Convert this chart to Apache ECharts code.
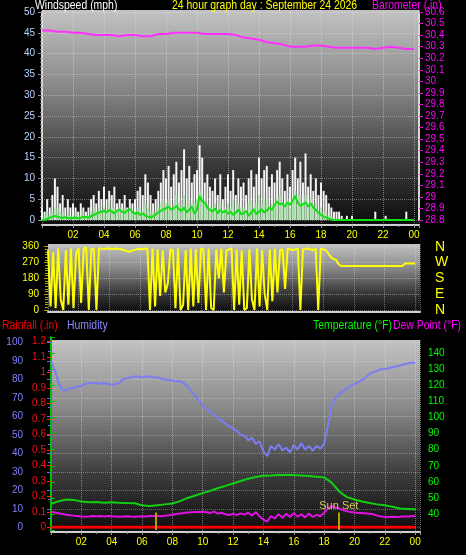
<!DOCTYPE html>
<html><head><meta charset="utf-8">
<script src="https://cdn.jsdelivr.net/npm/echarts@6/dist/echarts.min.js"></script>
<style>html,body{margin:0;padding:0;background:#000;}#c{width:466px;height:555px;}</style>
</head><body><div id="c"></div>
<script>
// ---------- DATA ----------
// hour labels for ticks 0,2,...,24
const hourLabels = ['', '02', '04', '06', '08', '10', '12', '14', '16', '18', '20', '22', '00'];
const compassLabels = ['N', 'E', 'S', 'W', 'N']; // 0,90,180,270,360

// 10-minute wind gust (mph), 0:00 .. 24:00
const windGust = [
 3,2,5,3,6,10, 8,4,6,3,5,3, 4,3,2,4,3,2, 3,5,6,4,7,5, 8,5,7,6,8,4, 5,4,6,3,5,4,
 5,7,8,6,11,9, 6,4,5,7,9,12, 10,13,8,11,14,9, 12,17,10,13,9,11, 12,18,15,9,11,8, 7,10,6,11,5,8,
 11,7,12,6,10,8, 9,6,10,12,8,11, 15,10,12,13,8,11, 9,12,14,10,7,11, 8,12,15,10,14,9, 16,8,11,7,10,6,
 9,7,6,4,3,2, 2,2,1,0,1,0, 1,0,0,0,0,0, 0,0,0,2,0,0, 0,1,0,0,0,0, 0,0,0,2,0,0, 0];
// 10-minute wind speed (mph)
const windSpeed = [
 0,1,2,1,2,3, 3,2,2,1,2,1, 1,2,1,1,2,1, 1,2,3,2,3,2, 3,2,4,3,3,2, 3,2,3,2,3,2,
 2,3,3,2,4,3, 2,2,2,3,4,5, 4,5,3,4,6,4, 4,6,3,5,4,4, 5,7,6,4,4,3, 3,4,2,4,2,3,
 4,3,5,2,4,3, 3,2,4,5,3,4, 6,4,5,5,3,4, 4,5,6,4,3,5, 3,5,7,4,6,4, 6,3,5,3,4,2,
 3,2,2,1,1,0, 0,0,0,0,0,0, 0,0,0,0,0,0, 0,0,0,0,0,0, 0,0,0,0,0,0, 0,0,0,0,0,0, 0];
// 10-minute average wind (mph)
const windAvg = [
 0,0,0.3,0.5,0.8,1, 0.8,0.6,0.5,0.7,0.5,0.4, 0.5,0.6,0.4,0.5,0.8,0.7, 0.6,0.9,1.2,1.5,1.8,2,
 2.2,1.8,2.4,2.0,1.6,2.2, 2.5,2.0,1.7,2.3,2.6,1.9, 1.5,1.8,1.2,1.6,1.0,0.8, 0.6,0.9,1.3,1.8,2.2,2.6,
 2.8,3.2,2.5,2.8,3.4,2.6, 2.2,3.0,1.8,2.5,3.2,1.5, 2.5,5.8,4.5,4.2,3.0,2.4, 2.0,2.8,1.6,2.4,1.8,2.2,
 1.5,2.0,1.2,1.8,2.5,1.4, 1.6,2.2,1.0,1.8,2.6,1.4, 2.0,2.6,1.8,2.2,3.0,2.4, 3.6,4.4,3.8,4.0,3.2,4.2,
 3.6,4.6,5.8,4.2,3.4,3.8, 4.2,3.2,4.0,3.0,2.4,1.8, 1.2,0.8,0.6,0.3,0.1,0, 0,0,0,0,0,0,
 0,0,0,0,0,0, 0,0,0,0,0,0, 0,0,0,0,0,0, 0,0,0,0,0,0, 0];
// 30-minute barometer (in)
const barometer = [30.44,30.44,30.43,30.43,30.42,30.42,30.41,30.40,30.40,30.40,30.39,30.40,30.40,30.39,30.39,30.41,
 30.41,30.42,30.42,30.42,30.42,30.41,30.41,30.41,30.41,30.40,30.38,30.37,30.36,30.34,30.33,30.32,
 30.30,30.30,30.30,30.31,30.31,30.30,30.29,30.29,30.29,30.29,30.29,30.28,30.29,30.30,30.29,30.28,30.28];
// 10-minute wind direction (deg)
const windDir = [
 340,20,330,10,350,60, 0,340,30,350,10,320, 350,40,350,355,0,350, 345,0,350,350,345,350,
 350,345,348,350,345,345, 340,335,330,338,342,345, 348,345,350,348,0,350, 20,345,80,340,100,150,
 345,340,10,350,0,30, 340,0,350,20,345,40, 350,345,0,350,10,0, 345,180,350,100,340,345,
 350,0,345,30,340,0, 10,345,60,0,350,20, 340,90,0,345,50,350, 100,340,345,120,350,345,
 340,345,350,0,345,348, 350,345,340,350,0,350, 345,340,320,300,290,285, 260,250,250,250,250,250,
 250,250,250,250,250,250, 250,250,250,250,250,250, 250,250,250,250,250,250, 250,250,265,265,265,265, 265];
// 15-minute humidity (%)
const humidity = [89.5,85,78,74.5,74,75,75.5,76,76.5,77.5,78,78,78,77.5,78,77.5,77,77.5,78,80,80.5,81,81.5,81.5,
 81,81.5,81.5,81,81,80.5,80,79.5,79.5,79,79,78,76,73.5,71,68.5,66,64,62.5,61,59,57.5,56,54.5,
 53.5,52,50,49.5,47,48.5,45,46.5,41,38.5,44,42,45,41.5,43,40.5,44.5,42,45.5,42,44,41.5,44,42.5,
 45,55,66,70,72,73.5,75,76.5,77.5,78.5,79.5,81,83,84,84.5,85.5,85.5,86,86.5,87,87.5,88,88.5,89,89];
// 30-minute temperature (F)
const temperature = [46.2,48,49,48.8,47.8,47.3,47.5,47,47.3,47,46.8,46.7,45.5,45,45.5,46,46.5,48,50,51.5,53,54.5,
 56,57.5,59,60.5,62,63,63.8,64,64.3,64.3,64.2,64,63.6,63.2,62.8,59.5,54,50.5,49,47.8,46.8,46,45.5,44.5,43.5,43.2,42.9];
// 15-minute dew point (F)
const dewPoint = [41.4,41,40.5,40,39.5,39.3,39,38.8,38.5,38.3,38.5,38.8,38.6,38.8,38.5,38.8,38.6,38.5,38.3,38.5,
 38.6,38.4,38.3,38.5,38.6,38.4,38.7,38.8,38.7,38.6,38.9,39.2,39.6,40,40.4,40.6,40.9,41.1,41.2,41.3,
 41.4,41.1,40.7,41.5,40.3,40.8,39.8,39.4,40.1,39.3,40.4,39.6,40.8,39,41.2,38.5,36.5,35.3,38.8,37.2,
 39.9,37.6,40.2,38.1,40.5,38.4,39.8,37.9,40.3,38.2,39.5,38.6,40.8,43.5,45,44,43.5,42.5,41.8,41.2,
 41,40.7,40.6,40.4,40.2,39.8,39,38.5,38.3,38.2,38.3,38.2,38.3,38.5,38.4,38.6,38.8];
// hourly rainfall (in)
const rainfall = [0,0,0,0,0,0,0,0,0,0,0,0,0,0,0,0,0,0,0,0,0,0,0,0,0];
// sunrise / sunset (hour)
const sunTimes = [6.92, 18.97];
const sunLabels = ['', 'Sun Set'];
// chart captions
const captions = ['Windspeed (mph)', '24 hour graph day : September 24 2026', 'Barometer (.in)',
  'Rainfall (.in)', 'Humidity', 'Temperature (\u00b0F)', 'Dew Point (\u00b0F)'];

// ---------- BUILD ----------
const pair = (arr, step) => arr.map((v, i) => [i * step, v]);
const FONT = '"Liberation Sans", Arial, sans-serif';
const XMAX = 24.32;
function grad() {
  return new echarts.graphic.LinearGradient(0, 0, 0, 1, [
    {offset: 0, color: '#c2c2c2'}, {offset: 0.35, color: '#8a8a8a'},
    {offset: 0.7, color: '#3c3c3c'}, {offset: 1, color: '#0c0c0c'}]);
}
const hourFmt = v => hourLabels[Math.round(v / 2)] || '';
const dotted = c => ({show: true, lineStyle: {type: 'dotted', color: c, width: 1}});
function hiddenX(g) { return {gridIndex: g, type: 'value', min: 0, max: XMAX, show: false}; }
function labelX(g) {
  return {gridIndex: g, type: 'value', min: 0, max: XMAX, interval: 2,
    axisLine: {show: true, lineStyle: {color: '#d0d0d0', width: 2}},
    axisTick: {show: true, length: 3, lineStyle: {color: '#9a9a9a'}},
    minorTick: {show: true, splitNumber: 2, length: 2, lineStyle: {color: '#9a9a9a'}},
    axisLabel: {color: '#ffff00', fontSize: 10, fontFamily: FONT, margin: 5, formatter: hourFmt},
    splitLine: dotted('rgba(235,235,235,0.45)')};
}
function plainX(g) {
  return {gridIndex: g, type: 'value', min: 0, max: XMAX, interval: 2,
    axisLine: {show: true, lineStyle: {color: '#d0d0d0', width: 2}},
    axisTick: {show: false}, axisLabel: {show: false},
    splitLine: dotted('rgba(235,235,235,0.4)')};
}
const hiddenY = g => ({gridIndex: g, type: 'value', min: 0, max: 1, show: false});
function caption(i, x, y, color) {
  return {type: 'text', x: x, y: y, scaleX: 0.87, z: 100,
    style: {text: captions[i], fill: color, fontSize: 12, fontFamily: FONT, verticalAlign: 'middle'}};
}

const option = {
  backgroundColor: '#000',
  animation: false,
  graphic: [
    caption(0, 35, 6, '#ffffff'),
    caption(1, 172, 6, '#ffff00'),
    caption(2, 372, 6, '#ff00ff'),
    caption(3, 2, 326, '#ff0000'),
    caption(4, 67, 326, '#8c8cff'),
    caption(5, 313, 326, '#00ff00'),
    caption(6, 393, 326, '#ff00ff')
  ],
  grid: [
    {left: 42, top: 10, width: 377, height: 215, show: true, backgroundColor: grad(), borderWidth: 0},
    {left: 42, top: 12, width: 377, height: 208},
    {left: 48, top: 244, width: 372, height: 68, show: true, backgroundColor: grad(), borderWidth: 0},
    {left: 48, top: 246.7, width: 372, height: 63.3},
    {left: 51, top: 340, width: 369, height: 192, show: true, backgroundColor: grad(), borderWidth: 0},
    {left: 51, top: 342.3, width: 369, height: 185},
    {left: 51, top: 341.3, width: 369, height: 186},
    {left: 51, top: 337.2, width: 369, height: 192.9}
  ],
  xAxis: [labelX(0), hiddenX(1), plainX(2), hiddenX(3), labelX(4), hiddenX(5), hiddenX(6), hiddenX(7)],
  yAxis: [
    hiddenY(0),
    {gridIndex: 1, type: 'value', min: 0, max: 50, interval: 5, position: 'left',
      axisLine: {show: true, lineStyle: {color: '#d8d8d8', width: 2}},
      axisTick: {show: true, length: 4, lineStyle: {color: '#8a8a8a'}},
      minorTick: {show: true, splitNumber: 5, length: 2, lineStyle: {color: '#8a8a8a'}},
      axisLabel: {color: '#b8d4ff', fontSize: 10, fontFamily: FONT, margin: 7},
      splitLine: dotted('rgba(235,235,235,0.4)')},
    {gridIndex: 1, type: 'value', min: 28.8, max: 30.6, interval: 0.1, position: 'right',
      axisLine: {show: true, lineStyle: {color: '#d8d8d8', width: 2}},
      axisTick: {show: true, length: 4, lineStyle: {color: '#ff00ff'}},
      axisLabel: {color: '#ff00ff', fontSize: 10, fontFamily: FONT, margin: 6,
        formatter: v => String(Math.round(v * 10) / 10)},
      splitLine: {show: false}},
    hiddenY(2),
    {gridIndex: 3, type: 'value', min: 0, max: 360, interval: 90, position: 'left',
      axisLine: {show: false},
      axisTick: {show: true, length: 4, lineStyle: {color: '#b0a000'}},
      minorTick: {show: true, splitNumber: 6, length: 3, lineStyle: {color: '#b0a000'}},
      axisLabel: {color: '#ffff00', fontSize: 10, fontFamily: FONT, margin: 9},
      splitLine: dotted('rgba(235,235,235,0.4)')},
    {gridIndex: 3, type: 'value', min: 0, max: 360, interval: 90, position: 'right',
      axisLine: {show: false}, axisTick: {show: false}, splitLine: {show: false},
      axisLabel: {color: '#ffff00', fontSize: 14, fontFamily: FONT, margin: 15,
        formatter: v => compassLabels[Math.round(v / 90)]}},
    hiddenY(4),
    {gridIndex: 5, type: 'value', min: 0, max: 100, interval: 10, position: 'left', offset: 21,
      axisLine: {show: true, lineStyle: {color: '#6a6ae8', width: 2}},
      axisTick: {show: true, length: 4, lineStyle: {color: '#6a6ae8'}},
      minorTick: {show: true, splitNumber: 2, length: 3, lineStyle: {color: '#6a6ae8'}},
      axisLabel: {color: '#8080ff', fontSize: 10, fontFamily: FONT, margin: 7},
      splitLine: dotted('rgba(235,235,235,0.35)')},
    {gridIndex: 6, type: 'value', min: 0, max: 1.2, interval: 0.1, position: 'left',
      axisLine: {show: true, lineStyle: {color: '#ff2020', width: 2, type: 'dashed'}},
      axisTick: {show: true, length: 4, lineStyle: {color: '#ff2020'}},
      axisLabel: {color: '#ff1010', fontSize: 10, fontFamily: FONT, margin: 5,
        formatter: v => String(Math.round(v * 10) / 10)},
      splitLine: {show: false}},
    {gridIndex: 7, type: 'value', min: 30, max: 150, interval: 10, position: 'right',
      axisLine: {show: true, lineStyle: {color: '#00c000', width: 2}},
      axisTick: {show: true, length: 4, lineStyle: {color: '#00c000'}},
      axisLabel: {color: '#00ff00', fontSize: 10, fontFamily: FONT, margin: 8,
        formatter: v => (v <= 30 || v >= 150) ? '' : String(v)},
      splitLine: {show: false}}
  ],
  series: [
    {type: 'bar', xAxisIndex: 1, yAxisIndex: 1, data: pair(windGust, 1 / 6), barWidth: 2,
      itemStyle: {color: '#f4f4f4'}, barGap: '-100%'},
    {type: 'bar', xAxisIndex: 1, yAxisIndex: 1, data: pair(windSpeed, 1 / 6), barWidth: 2,
      itemStyle: {color: '#b4e8b4'}, barGap: '-100%'},
    {type: 'line', xAxisIndex: 1, yAxisIndex: 1, data: pair(windAvg, 1 / 6), symbol: 'none',
      lineStyle: {color: '#10e010', width: 2}},
    {type: 'line', xAxisIndex: 1, yAxisIndex: 2, data: pair(barometer, 0.5), symbol: 'none',
      lineStyle: {color: '#ff30ff', width: 2}},
    {type: 'line', xAxisIndex: 3, yAxisIndex: 4, data: pair(windDir, 1 / 6), symbol: 'none',
      lineStyle: {color: '#ffff00', width: 2}},
    {type: 'line', xAxisIndex: 5, yAxisIndex: 7, data: pair(humidity, 0.25), symbol: 'none',
      lineStyle: {color: '#7c7cf4', width: 2}},
    {type: 'line', xAxisIndex: 7, yAxisIndex: 9, data: pair(temperature, 0.5), symbol: 'none',
      lineStyle: {color: '#10d010', width: 2}},
    {type: 'line', xAxisIndex: 7, yAxisIndex: 9, data: pair(dewPoint, 0.25), symbol: 'none',
      lineStyle: {color: '#e010e0', width: 2}},
    {type: 'line', xAxisIndex: 6, yAxisIndex: 8, data: pair(rainfall, 1), symbol: 'none',
      lineStyle: {color: '#ff0000', width: 3}},
    {type: 'line', xAxisIndex: 7, yAxisIndex: 9, data: [], symbol: 'none',
      markLine: {symbol: 'none', silent: true,
        lineStyle: {color: '#b0a000', width: 2, type: 'solid'},
        label: {show: true, position: 'start', distance: 1, color: '#d8c860', fontSize: 11, fontFamily: FONT,
          formatter: p => p.name},
        data: sunTimes.map((t, i) => [{xAxis: t, yAxis: 41, name: sunLabels[i]}, {xAxis: t, yAxis: 30}])}}
  ]
};
echarts.init(document.getElementById('c')).setOption(option);
</script></body></html>
